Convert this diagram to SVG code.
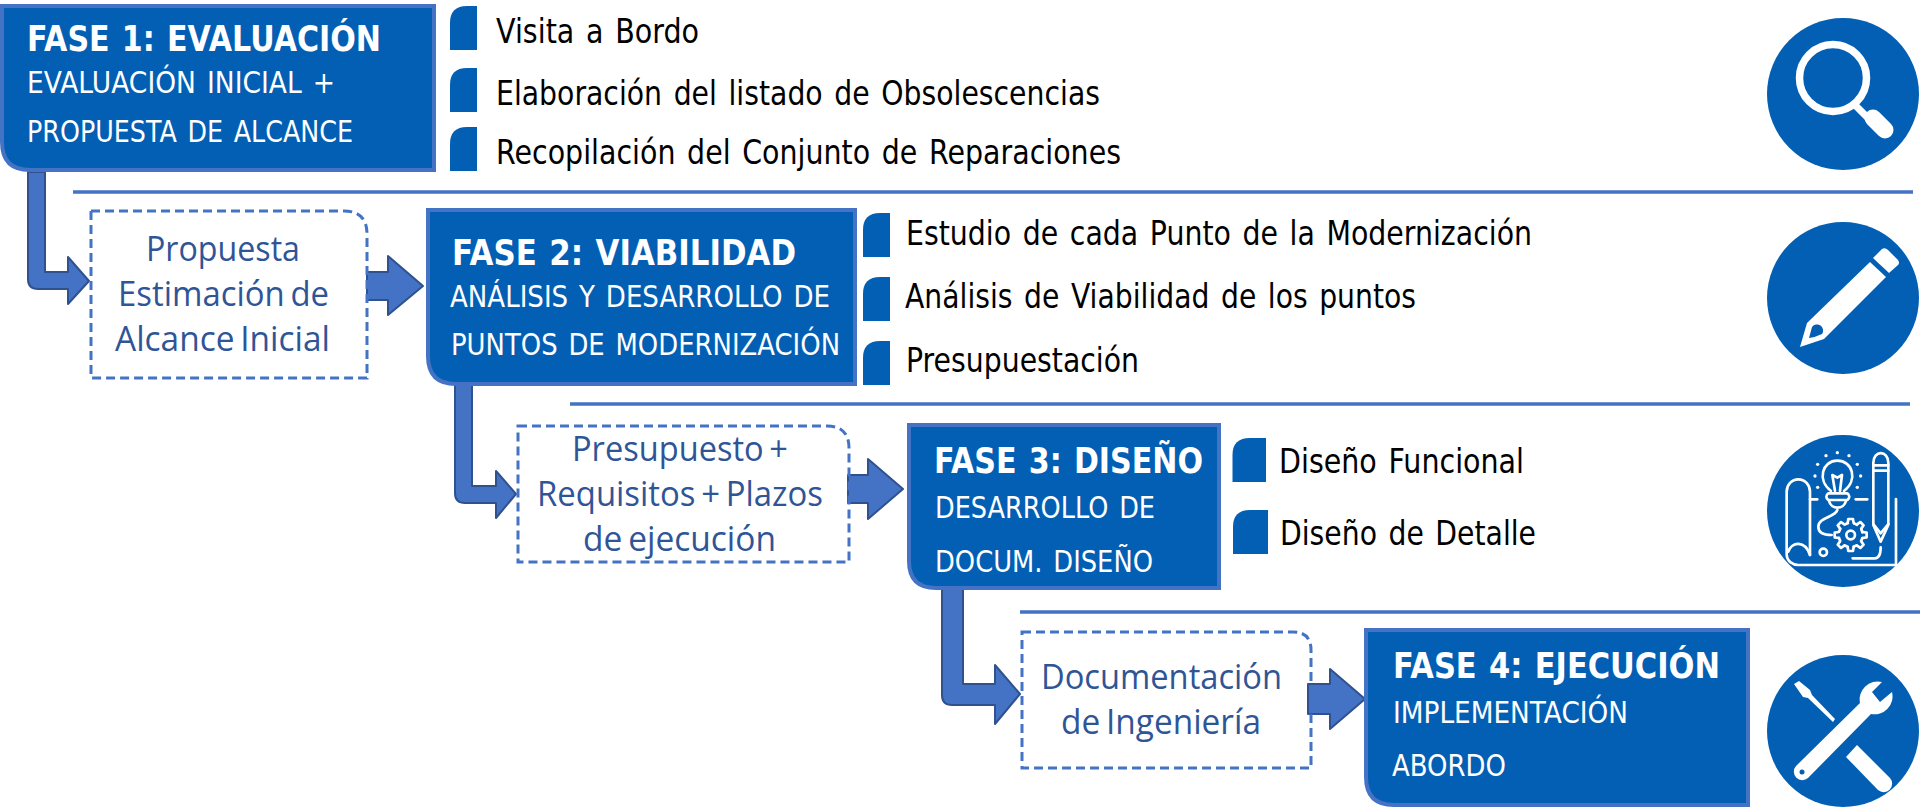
<svg xmlns="http://www.w3.org/2000/svg" xmlns:xlink="http://www.w3.org/1999/xlink" width="1922" height="807" viewBox="0 0 1922 807">
<style>
.fase{fill:#035FB4;stroke:#4472C4;stroke-width:4}
.bul{fill:#035FB4}
.dash{fill:none;stroke:#4472C4;stroke-width:3;stroke-dasharray:9 5}
.arr{fill:#4472C4;stroke:#2F528F;stroke-width:2;stroke-linejoin:round}
.sep{stroke:#4472C4;stroke-width:3.5;fill:none}
text{font-family:"DejaVu Sans","Liberation Sans",sans-serif}
.t{font-weight:700;font-size:35px;fill:#fff;word-spacing:2px}
.s{font-size:30px;fill:#fff;word-spacing:3px}
.b{font-size:33px;fill:#000;word-spacing:3px}
.l{font-family:"Open Sans","Noto Sans",sans-serif;font-size:35px;fill:#2F5597;word-spacing:-3px}
.disc{fill:#035FB4}
.w{fill:#fff}
.ws{fill:none;stroke:#fff;stroke-width:8;stroke-linecap:round;stroke-linejoin:round}
</style>
<defs>
<path id="bullet" class="bul" d="M0,44V17Q0,0 17,0H27V44Z"/>
</defs>
<g id="separators">
<path class="sep" d="M73,192H1913M570,404H1910M1020,612H1920"/>
</g>
<g id="connectors">
<path class="arr" d="M28,172V279Q28,289 38,289H68V304L89,281L68,257V272H45V172Z"/>
<path class="arr" d="M367,272H388V256L423,286L388,315V300H367Z"/>
<path class="arr" d="M455,385V493Q455,503 465,503H496V518L516,494L496,471V486H472V385Z"/>
<path class="arr" d="M848,475H868V459L903,489L868,519V503H848Z"/>
<path class="arr" d="M942,589V695Q942,705 952,705H995V724L1020,694L995,665V684H963V589Z"/>
<path class="arr" d="M1308,684H1330V669L1365,699L1330,729V714H1308Z"/>
</g>
<g id="fase1">
<path class="fase" d="M2,6H434V170H30Q2,170 2,142Z"/>
<text class="t" x="27" y="51" textLength="354" lengthAdjust="spacingAndGlyphs">FASE 1: EVALUACIÓN</text>
<text class="s" x="27" y="93" textLength="308" lengthAdjust="spacingAndGlyphs">EVALUACIÓN INICIAL +</text>
<text class="s" x="27" y="142" textLength="326" lengthAdjust="spacingAndGlyphs">PROPUESTA DE ALCANCE</text>
</g>
<g id="fase1-items">
<use xlink:href="#bullet" href="#bullet" x="450" y="6"/>
<use xlink:href="#bullet" href="#bullet" x="450" y="68"/>
<use xlink:href="#bullet" href="#bullet" x="450" y="127"/>
<text class="b" x="496" y="43" textLength="203" lengthAdjust="spacingAndGlyphs">Visita a Bordo</text>
<text class="b" x="496" y="105" textLength="604" lengthAdjust="spacingAndGlyphs">Elaboración del listado de Obsolescencias</text>
<text class="b" x="496" y="164" textLength="625" lengthAdjust="spacingAndGlyphs">Recopilación del Conjunto de Reparaciones</text>
</g>
<g id="propuesta">
<path class="dash" d="M91,211H344Q367,211 367,234V378H91Z"/>
<text class="l" x="146" y="261" textLength="154" lengthAdjust="spacingAndGlyphs">Propuesta</text>
<text class="l" x="118" y="306" textLength="211" lengthAdjust="spacingAndGlyphs">Estimación de</text>
<text class="l" x="115" y="351" textLength="215" lengthAdjust="spacingAndGlyphs">Alcance Inicial</text>
</g>
<g id="fase2">
<path class="fase" d="M428,210H855V384H456Q428,384 428,356Z"/>
<text class="t" x="452" y="265" textLength="344" lengthAdjust="spacingAndGlyphs">FASE 2: VIABILIDAD</text>
<text class="s" x="450" y="307" textLength="380" lengthAdjust="spacingAndGlyphs">ANÁLISIS Y DESARROLLO DE</text>
<text class="s" x="451" y="355" textLength="389" lengthAdjust="spacingAndGlyphs">PUNTOS DE MODERNIZACIÓN</text>
</g>
<g id="fase2-items">
<use xlink:href="#bullet" href="#bullet" x="863" y="213"/>
<use xlink:href="#bullet" href="#bullet" x="863" y="277"/>
<use xlink:href="#bullet" href="#bullet" x="863" y="341"/>
<text class="b" x="906" y="245" textLength="626" lengthAdjust="spacingAndGlyphs">Estudio de cada Punto de la Modernización</text>
<text class="b" x="905" y="308" textLength="511" lengthAdjust="spacingAndGlyphs">Análisis de Viabilidad de los puntos</text>
<text class="b" x="906" y="372" textLength="233" lengthAdjust="spacingAndGlyphs">Presupuestación</text>
</g>
<g id="presupuesto">
<path class="dash" d="M518,426H827Q849,426 849,448V562H518Z"/>
<text class="l" x="572" y="461" textLength="216" lengthAdjust="spacingAndGlyphs">Presupuesto +</text>
<text class="l" x="537" y="506" textLength="286" lengthAdjust="spacingAndGlyphs">Requisitos + Plazos</text>
<text class="l" x="583" y="551" textLength="193" lengthAdjust="spacingAndGlyphs">de ejecución</text>
</g>
<g id="fase3">
<path class="fase" d="M909,425H1219V588H936Q909,588 909,561Z"/>
<text class="t" x="934" y="473" textLength="269" lengthAdjust="spacingAndGlyphs">FASE 3: DISEÑO</text>
<text class="s" x="935" y="518" textLength="220" lengthAdjust="spacingAndGlyphs">DESARROLLO DE</text>
<text class="s" x="935" y="572" textLength="218" lengthAdjust="spacingAndGlyphs">DOCUM. DISEÑO</text>
</g>
<g id="fase3-items">
<path class="bul" d="M1232.5,482V455Q1232.5,438 1250,438H1266V482Z"/>
<path class="bul" d="M1233,554V527Q1233,510 1250,510H1268V554Z"/>
<text class="b" x="1279" y="473" textLength="245" lengthAdjust="spacingAndGlyphs">Diseño Funcional</text>
<text class="b" x="1280" y="545" textLength="256" lengthAdjust="spacingAndGlyphs">Diseño de Detalle</text>
</g>
<g id="documentacion">
<path class="dash" d="M1022,632H1293Q1311,632 1311,650V768H1022Z"/>
<text class="l" x="1041" y="689" textLength="241" lengthAdjust="spacingAndGlyphs">Documentación</text>
<text class="l" x="1061" y="734" textLength="200" lengthAdjust="spacingAndGlyphs">de Ingeniería</text>
</g>
<g id="fase4">
<path class="fase" d="M1366,630H1748V805H1394Q1366,805 1366,777Z"/>
<text class="t" x="1393" y="678" textLength="327" lengthAdjust="spacingAndGlyphs">FASE 4: EJECUCIÓN</text>
<text class="s" x="1393" y="723" textLength="235" lengthAdjust="spacingAndGlyphs">IMPLEMENTACIÓN</text>
<text class="s" x="1392" y="776" textLength="114" lengthAdjust="spacingAndGlyphs">ABORDO</text>
</g>
<g id="icon-search">
<circle class="disc" cx="1843" cy="94" r="76"/>
<circle cx="1833" cy="78" r="33.5" fill="none" stroke="#fff" stroke-width="7.5"/>
<path d="M1856,106L1868,118" stroke="#fff" stroke-width="7" fill="none"/>
<path d="M1873,118L1885,130" stroke="#fff" stroke-width="17" stroke-linecap="round" fill="none"/>
</g>
<g id="icon-pencil">
<circle class="disc" cx="1843" cy="298" r="76"/>
<path class="w" d="M1800,347L1807,323L1870,262L1886,277L1824,339Z"/>
<path class="w" d="M1873,258L1882,249Q1885,247 1888,250L1898,260Q1900,263 1898,265L1889,273Z"/>
<path class="disc" d="M1809,338L1812,327A6,6 0 1 1 1822,334Q1816,337 1809,338Z"/>
</g>
<g id="icon-design">
<circle class="disc" cx="1843" cy="511" r="76"/>
<g transform="translate(1760,430) scale(.3333)">
<path class="ws" d="M150,375V185A35,37 0 0 0 80,185V372C80,395 100,405 115,405H408V207"/>
<path class="ws" d="M85,365C95,335 135,330 150,375"/>
<path class="ws" d="M150,208H172M287,208H322"/>
<path class="ws" d="M213,183C170,150 187,92 232,92C278,92 295,150 252,183"/>
<path class="ws" d="M205,190H262Q274,200 262,210H205Q193,200 205,190Z"/>
<path class="ws" d="M225,183L217,135L232,143L246,135L240,183"/>
<path class="ws" d="M207,212C213,240 252,240 258,212"/>
<path class="ws" d="M232,240C225,262 175,262 175,290C175,310 195,315 215,315"/>
<g fill="#fff"><circle cx="198" cy="77" r="5"/><circle cx="232" cy="68" r="5"/><circle cx="267" cy="77" r="5"/><circle cx="173" cy="103" r="5"/><circle cx="292" cy="103" r="5"/><circle cx="165" cy="138" r="5"/><circle cx="302" cy="138" r="5"/><circle cx="173" cy="172" r="5"/><circle cx="292" cy="172" r="5"/></g>
<g transform="translate(272,315)">
<circle class="ws" r="13"/>
<circle class="ws" r="36" stroke-dasharray="9 19.3" stroke-dashoffset="-9.5" stroke-linecap="butt"/>
<path class="ws" d="M-9,-36L-7,-48H7L9,-36"/>
<path class="ws" transform="rotate(45)" d="M-9,-36L-7,-48H7L9,-36"/>
<path class="ws" transform="rotate(90)" d="M-9,-36L-7,-48H7L9,-36"/>
<path class="ws" transform="rotate(135)" d="M-9,-36L-7,-48H7L9,-36"/>
<path class="ws" transform="rotate(180)" d="M-9,-36L-7,-48H7L9,-36"/>
<path class="ws" transform="rotate(225)" d="M-9,-36L-7,-48H7L9,-36"/>
<path class="ws" transform="rotate(270)" d="M-9,-36L-7,-48H7L9,-36"/>
<path class="ws" transform="rotate(315)" d="M-9,-36L-7,-48H7L9,-36"/>
</g>
<circle class="ws" cx="190" cy="367" r="11"/>
<path class="ws" d="M278,385H345Q362,385 362,352"/>
<path class="ws" d="M340,285V98C340,60 385,60 385,98V285L362,335Z"/>
<path class="ws" d="M340,106H385M340,122H385M340,282L362,310L385,282"/>
</g>
</g>
<g id="icon-tools">
<circle class="disc" cx="1843" cy="731" r="76"/>
<path class="w" d="M1794,684L1799,681L1810,690L1812,695L1835,719L1833,722L1808,698L1803,697Z"/>
<path class="w" d="M1857,745L1890,778A8.5,8.5 0 0 1 1878,790L1846,757Z"/>
<path class="w" d="M1860,703A18,18 0 0 1 1882,682L1872,692L1880,702L1892,692A18,18 0 0 1 1871,714L1808,778A8.5,8.5 0 0 1 1796,766Z"/>
<circle class="disc" cx="1802" cy="772" r="2.5"/>
</g>
</svg>
